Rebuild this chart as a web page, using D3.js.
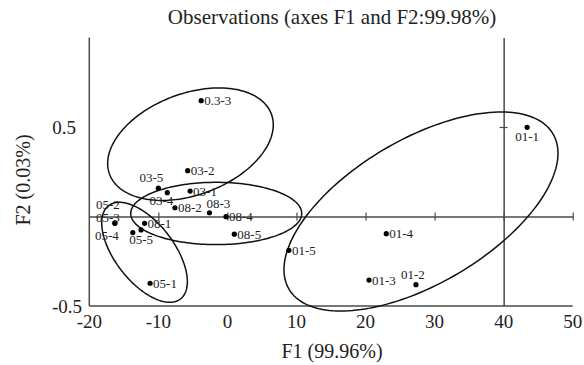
<!DOCTYPE html>
<html>
<head>
<meta charset="utf-8">
<script src="https://cdn.jsdelivr.net/npm/d3@7/dist/d3.min.js"></script>
<style>
  body { margin: 0; background: #fff; }
  text { font-family: "Liberation Serif", "Times New Roman", serif; fill: #222; }
</style>
</head>
<body>
<svg id="chart" width="584" height="365"></svg>
<script>
// observations (F1, F2)
const obsNames = ["01-1", "01-2", "01-3", "01-4", "01-5", "0.3-3", "03-2", "03-5", "03-4", "03-1",
                  "08-2", "08-3", "08-4", "08-5", "08-1", "05-2", "05-3", "05-4", "05-5", "05-1"];
const f1Values = [43.4, 27.3, 20.5, 23.0, 8.9, -3.8, -5.75, -10.0, -8.7, -5.4,
                  -7.6, -2.6, -0.2, 1.0, -12.0, -16.3, -16.3, -13.7, -12.5, -11.2];
const f2Values = [0.498, -0.381, -0.355, -0.096, -0.189, 0.647, 0.256, 0.158, 0.133, 0.142,
                  0.049, 0.021, -0.001, -0.099, -0.038, -0.036, -0.038, -0.090, -0.075, -0.373];
// where each label sits relative to its dot
const labelPos = ["b", "a", "r", "r", "r", "r", "r", "al", "bl", "r",
                  "r", "ar", "r", "r", "r", "ul2", "ul", "l", "b", "r"];

// groups ellipses: centre + conjugate half axes (data units)
const ellCx = [-5.35, -1.62, -12.0, 28.03];
const ellCy = [0.404, 0.017, -0.200, 0.028];
const ellUx = [11.99, 12.38, 6.20, 19.84];
const ellUy = [0.108, 0.0, -0.164, 0.325];
const ellVy = [0.295, 0.174, 0.226, 0.451];

const xTicks = [-20, -10, 0, 10, 20, 30, 40, 50];
const yTicks = [-0.5, 0.5];

const svg = d3.select("#chart");
const x = d3.scaleLinear().domain([-20, 50]).range([89.3, 572.7]);
const y = d3.scaleLinear().domain([-0.5, 1.0]).range([306, 37.5]);

const axisColor = "#4a4a4a";

// title
svg.append("text")
  .attr("x", 332).attr("y", 24)
  .attr("text-anchor", "middle")
  .style("font-size", "21px")
  .text("Observations (axes F1 and F2:99.98%)");

// left + bottom frame axes
svg.append("line")
  .attr("x1", x(-20)).attr("x2", x(-20))
  .attr("y1", y(1.0)).attr("y2", y(-0.5))
  .attr("stroke", axisColor).attr("stroke-width", 1.5);
svg.append("line")
  .attr("x1", x(-20)).attr("x2", x(50))
  .attr("y1", y(-0.5)).attr("y2", y(-0.5))
  .attr("stroke", axisColor).attr("stroke-width", 1.5);

// F2 = 0 line with ticks
const hAxis = d3.axisBottom(x).tickValues(xTicks.slice(1)).tickSizeInner(4).tickSizeOuter(0).tickFormat("");
const hg = svg.append("g").attr("transform", `translate(0,${y(0)})`).call(hAxis);
hg.select(".domain").attr("stroke", axisColor).attr("stroke-width", 1.5);
hg.selectAll(".tick line").attr("stroke", axisColor).attr("stroke-width", 1.2).attr("y1", -4).attr("y2", 4);

// F1 = 40 line with ticks
const vAxis = d3.axisLeft(y).tickValues([0.5]).tickSizeInner(4).tickSizeOuter(0).tickFormat("");
const vg = svg.append("g").attr("transform", `translate(${x(40)},0)`).call(vAxis);
vg.select(".domain").attr("stroke", axisColor).attr("stroke-width", 1.5);
vg.selectAll(".tick line").attr("stroke", axisColor).attr("stroke-width", 1.2).attr("x1", -4).attr("x2", 4);

// tick labels
svg.selectAll(".xlab")
  .data(xTicks)
  .enter().append("text")
  .attr("class", "xlab")
  .attr("x", d => x(d))
  .attr("y", 328)
  .attr("text-anchor", "middle")
  .style("font-size", "19px")
  .text(d => d);

svg.selectAll(".ylab")
  .data(yTicks)
  .enter().append("text")
  .attr("class", "ylab")
  .attr("x", d => d < 0 ? 82 : 76)
  .attr("y", d => y(d) + 7)
  .attr("text-anchor", "end")
  .style("font-size", "19px")
  .text(d => d);

// axis titles
svg.append("text")
  .attr("x", 332).attr("y", 358)
  .attr("text-anchor", "middle")
  .style("font-size", "20px")
  .text("F1 (99.96%)");
svg.append("text")
  .attr("transform", "translate(30,180) rotate(-90)")
  .attr("text-anchor", "middle")
  .style("font-size", "20px")
  .text("F2 (0.03%)");

// ellipses
const tSteps = d3.range(0, 2 * Math.PI, Math.PI / 90);
const ellLine = d3.line().x(d => x(d[0])).y(d => y(d[1])).curve(d3.curveLinearClosed);
ellCx.forEach(function (cx, i) {
  const pts = tSteps.map(t => [cx + ellUx[i] * Math.cos(t),
                               ellCy[i] + ellUy[i] * Math.cos(t) + ellVy[i] * Math.sin(t)]);
  svg.append("path")
    .attr("d", ellLine(pts))
    .attr("fill", "none")
    .attr("stroke", "#111")
    .attr("stroke-width", 1.5);
});

// points
const obs = obsNames.map((n, i) => ({name: n, f1: f1Values[i], f2: f2Values[i], pos: labelPos[i]}));

svg.selectAll("circle.obs")
  .data(obs)
  .enter().append("circle")
  .attr("class", "obs")
  .attr("cx", d => x(d.f1))
  .attr("cy", d => y(d.f2))
  .attr("r", 2.6)
  .attr("fill", "#000");

const place = {
  r:   {anchor: "start",  dx: 3,   dy: 4.5},
  a:   {anchor: "middle", dx: -3,  dy: -6},
  ar:  {anchor: "start",  dx: -3,  dy: -5},
  b:   {anchor: "middle", dx: 0,   dy: 14},
  al:  {anchor: "end",    dx: 5,   dy: -6},
  bl:  {anchor: "end",    dx: 6,   dy: 12},
  ul2: {anchor: "end",    dx: 5,   dy: -14},
  ul:  {anchor: "end",    dx: 5,   dy: -1.5},
  l:   {anchor: "end",    dx: -14, dy: 7}
};

svg.selectAll("text.obslab")
  .data(obs)
  .enter().append("text")
  .attr("class", "obslab")
  .attr("x", d => x(d.f1) + place[d.pos].dx)
  .attr("y", d => y(d.f2) + place[d.pos].dy)
  .attr("text-anchor", d => place[d.pos].anchor)
  .style("font-size", "13px")
  .text(d => d.name);
</script>
</body>
</html>
